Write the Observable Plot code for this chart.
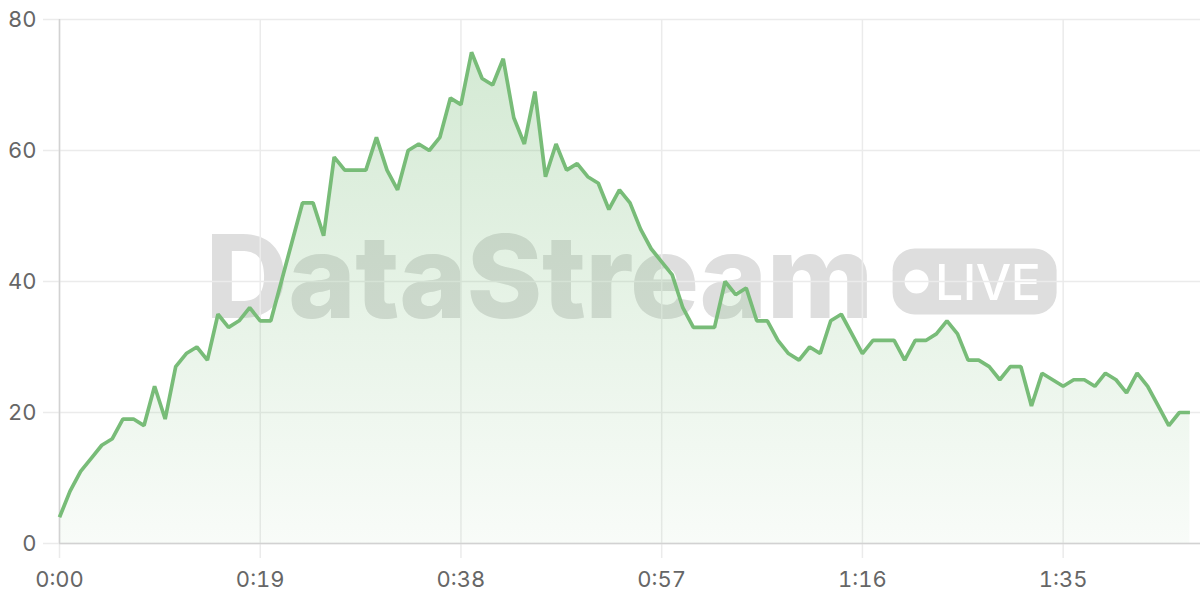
<!DOCTYPE html>
<html>
<head>
<meta charset="utf-8">
<script src="https://cdn.jsdelivr.net/npm/d3@7"></script>
<script src="https://cdn.jsdelivr.net/npm/@observablehq/plot@0.6"></script>
<style>
  html, body { margin: 0; padding: 0; background: #fff; }
  #wrap { position: relative; width: 1200px; height: 600px; }
  #wm { position: absolute; left: 631px; top: 281px; transform: translate(-50%, -50%);
        display: flex; align-items: center; gap: 20px; white-space: nowrap; z-index: 0; }
  #wm .name { font-family: Inter, sans-serif; font-weight: 800; font-size: 115px; color: #dedede;
              letter-spacing: -0.5px; line-height: 1; position: relative; top: -5px; }
  #wm .badge { display: flex; align-items: center; background: #dedede; border-radius: 22px;
               height: 66px; padding: 0 16px 0 12px; }
  #wm .dot { width: 24px; height: 24px; border-radius: 50%; background: #fff; margin-right: 6px; }
  #wm .live { font-family: Inter, sans-serif; font-weight: 500; font-size: 50px; color: #fff;
              line-height: 1; letter-spacing: -0.5px; }
  #chart { position: absolute; left: 0; top: 0; z-index: 1; }
</style>
</head>
<body>
<div id="wrap">
  <div id="wm"><span class="name">DataStream</span><span class="badge"><span class="dot"></span><span class="live">LIVE</span></span></div>
  <div id="chart"></div>
</div>
<script>
// values, one per second starting at 0:00
const values = [4,8,11,13,15,16,19,19,18,24,
  19,27,29,30,28,35,33,34,36,34,
  34,40,46,52,52,47,59,57,57,57,
  62,57,54,60,61,60,62,68,67,75,
  71,70,74,65,61,69,56,61,57,58,
  56,55,51,54,52,48,45,43,41,36,
  33,33,33,40,38,39,34,34,31,29,
  28,30,29,34,35,32,29,31,31,31,
  28,31,31,32,34,32,28,28,27,25,
  27,27,21,26,25,24,25,25,24,26,
  25,23,26,24,21,18,20,20];
const xTicks = [0, 19, 38, 57, 76, 95];
const yTicks = [0, 20, 40, 60, 80];
const xDomain = [0, 108];
const yDomain = [0, 80];

const data = values.map((v, i) => ({t: i, v}));
const fmt = s => `${Math.floor(s / 60)}:${String(s % 60).padStart(2, "0")}`;

const green = "#78bc78";
const gridColor = "#ebebeb";
const axisColor = "#d2d2d2";

const plot = Plot.plot({
  width: 1200,
  height: 600,
  marginTop: 19,
  marginBottom: 57,
  marginLeft: 59,
  marginRight: 0,
  style: {fontFamily: "Inter, sans-serif", fontSize: "22px", background: "transparent", overflow: "visible"},
  x: {domain: xDomain},
  y: {domain: yDomain},
  marks: [
    Plot.gridY(yTicks, {stroke: gridColor, strokeOpacity: 1, strokeWidth: 1.5}),
    Plot.gridX(xTicks, {stroke: gridColor, strokeOpacity: 1, strokeWidth: 1.5}),
    Plot.axisY({ticks: yTicks, tickSize: 16, tickPadding: 7, stroke: gridColor, strokeOpacity: 1, strokeWidth: 1.5, fill: "#666", label: null, tickFormat: d => d}),
    Plot.axisX({ticks: xTicks, tickSize: 15, tickPadding: 13, stroke: gridColor, strokeOpacity: 1, strokeWidth: 1.5, fill: "#666", label: null, tickFormat: fmt}),
    Plot.areaY(data, {x: "t", y: "v", fill: "url(#areaGrad)"}),
    Plot.ruleY([0], {stroke: axisColor, strokeWidth: 1.5}),
    Plot.ruleX([0], {stroke: axisColor, strokeWidth: 1.5}),
    Plot.line(data, {x: "t", y: "v", stroke: green, strokeWidth: 3.7, strokeLinejoin: "miter", strokeLinecap: "butt"})
  ]
});

const ns = "http://www.w3.org/2000/svg";
const defs = document.createElementNS(ns, "defs");
const grad = document.createElementNS(ns, "linearGradient");
grad.setAttribute("id", "areaGrad");
grad.setAttribute("x1", "0"); grad.setAttribute("y1", "0");
grad.setAttribute("x2", "0"); grad.setAttribute("y2", "1");
[[0, 0.32], [1, 0.05]].forEach(([o, a]) => {
  const s = document.createElementNS(ns, "stop");
  s.setAttribute("offset", o);
  s.setAttribute("stop-color", green);
  s.setAttribute("stop-opacity", a);
  grad.appendChild(s);
});
defs.appendChild(grad);
plot.insertBefore(defs, plot.firstChild);

document.getElementById("chart").appendChild(plot);
</script>
</body>
</html>
